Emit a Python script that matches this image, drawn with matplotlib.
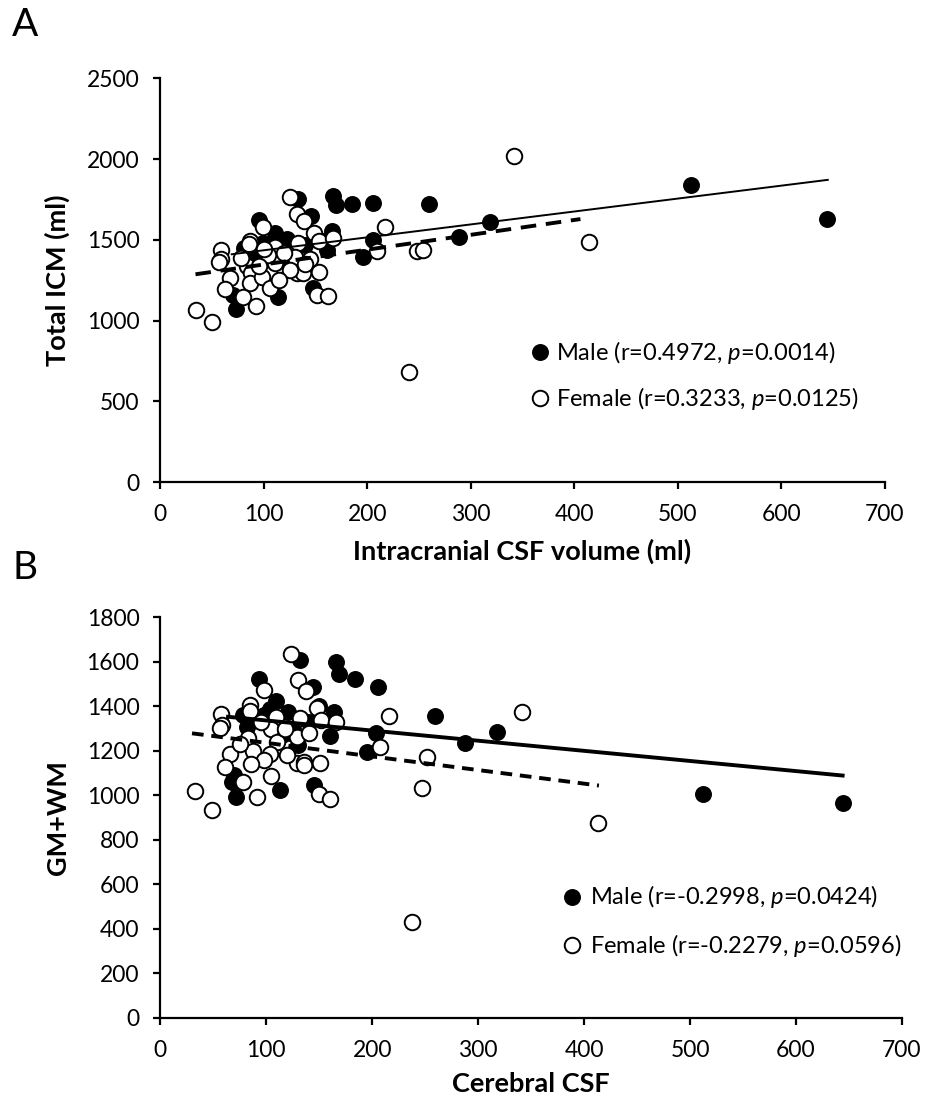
import numpy as np
import matplotlib
matplotlib.use("Agg")
import matplotlib.pyplot as plt

plt.rcParams['font.family'] = ['Lato', 'DejaVu Sans']
plt.rcParams['mathtext.fontset'] = 'custom'
plt.rcParams['mathtext.rm'] = 'Lato'
plt.rcParams['mathtext.it'] = 'Lato:italic'

# ---- panel A: intracranial CSF vs total ICM ----
a_male_x = [133, 167, 170, 185, 206, 260, 146, 95, 111, 166, 122, 99.5, 81, 206, 196,
            161, 289, 83.5, 85, 116, 125, 148, 114, 70.5, 73, 513, 644, 319, 128, 104,
            140, 90, 157]
a_male_y = [1750, 1771, 1715, 1720, 1726, 1721, 1647, 1622, 1540, 1556, 1503, 1478, 1447, 1498, 1395,
            1437, 1519, 1406, 1375, 1395, 1344, 1199, 1147, 1158, 1069, 1839, 1627, 1608, 1333, 1450,
            1470, 1380, 1490]
a_fem_x = [125, 132, 139, 99.5, 217, 148.5, 87, 86, 111, 133, 153, 167, 209, 248, 254,
           59, 59, 57, 103, 130, 83.5, 88, 105, 132, 138, 153, 67, 87, 98, 62.5,
           106, 151, 162, 80, 92.5, 34.5, 50, 342, 414.5, 240, 111, 104, 120, 145, 95,
           125, 115, 140, 100, 78]
a_fem_y = [1763, 1659, 1616, 1581, 1581, 1544, 1492, 1474, 1457, 1482, 1492, 1509, 1430, 1430, 1437,
           1437, 1379, 1364, 1395, 1395, 1337, 1292, 1296, 1292, 1292, 1302, 1261, 1230, 1268, 1193,
           1203, 1158, 1152, 1147, 1092, 1065, 993, 2020, 1488, 679, 1358, 1406, 1420, 1380, 1340,
           1310, 1250, 1350, 1440, 1390]
# trend lines: slope, intercept, x range
a_male_fit = (0.80, 1355, 69, 645)
a_fem_fit = (0.919, 1255, 34, 406)

# ---- panel B: cerebral CSF vs GM+WM ----
b_male_x = [132, 165.6, 169, 184, 206, 259, 93, 144.5, 109, 78, 98, 82, 121, 164, 160,
            204, 195, 115, 130, 69.6, 67.5, 145, 113, 71.5, 317.5, 288, 512, 644, 122.5,
            140, 150, 104, 125]
b_male_y = [1608, 1601, 1545, 1522, 1486, 1357, 1523, 1486, 1425, 1361, 1361, 1309, 1376, 1376, 1267,
            1279, 1196, 1271, 1226, 1092, 1062, 1047, 1024, 994, 1283, 1234, 1006, 964, 1279,
            1330, 1400, 1390, 1300]
b_fem_x = [123, 130, 138, 98, 85, 85, 57, 58, 56, 109, 132, 148, 152, 166, 216,
           207, 129, 105, 83, 110, 88, 104, 98, 66, 61, 86, 129, 136, 136, 151,
           105, 78, 150, 160, 91, 33, 49, 247, 252, 341, 413, 238, 118, 140, 95,
           120, 75]
b_fem_y = [1634, 1518, 1469, 1473, 1406, 1380, 1366, 1316, 1301, 1351, 1346, 1391, 1339, 1331, 1357,
           1216, 1264, 1297, 1256, 1241, 1201, 1186, 1159, 1186, 1129, 1141, 1147, 1151, 1137, 1144,
           1089, 1062, 1005, 984, 994, 1021, 934, 1035, 1171, 1376, 875, 430, 1300, 1280, 1330,
           1180, 1230]
b_male_fit = (-0.455, 1382, 64, 644)
b_fem_fit = (-0.611, 1297, 30, 414)

a_legend = ["Male (r=0.4972, $\\mathit{p}$=0.0014)", "Female (r=0.3233, $\\mathit{p}$=0.0125)"]
b_legend = ["Male (r=-0.2998, $\\mathit{p}$=0.0424)", "Female (r=-0.2279, $\\mathit{p}$=0.0596)"]

fig = plt.figure(figsize=(9.25, 11.04), dpi=100)
axA = fig.add_axes([0.1733, 0.5634, 0.7831, 0.3657])
axB = fig.add_axes([0.1732, 0.0779, 0.8019, 0.3630])

MS = 125


def fit_line(ax, fit, **kw):
    m, c, x0, x1 = fit
    xs = np.array([x0, x1])
    ax.plot(xs, m * xs + c, color='black', zorder=4, **kw)


def style(ax, ymax, ystep, xlabel, ylabel, xpad, ypad):
    ax.set_xlim(0, 700)
    ax.set_ylim(0, ymax)
    ax.set_xticks(np.arange(0, 701, 100))
    ax.set_yticks(np.arange(0, ymax + 1, ystep))
    for s in ['top', 'right']:
        ax.spines[s].set_visible(False)
    for s in ['left', 'bottom']:
        ax.spines[s].set_linewidth(1.6)
    ax.tick_params(direction='out', length=5, width=1.6, labelsize=16.5)
    ax.tick_params(axis='x', pad=11)
    ax.tick_params(axis='y', pad=10)
    ax.set_xlabel(xlabel, fontsize=19.5, fontweight='bold', labelpad=xpad)
    ax.set_ylabel(ylabel, fontsize=19.5, fontweight='bold', labelpad=ypad)


def legend(ax, labels, x, ys, tx):
    ax.scatter([x], [ys[0]], s=MS, color='black', transform=ax.transAxes, clip_on=False)
    ax.scatter([x], [ys[1]], s=MS, facecolors='white', edgecolors='black', linewidths=1.4,
               transform=ax.transAxes, clip_on=False)
    for lab, y in zip(labels, ys):
        ax.text(tx, y, lab, transform=ax.transAxes, va='center', ha='left', fontsize=17)


# A
axA.scatter(a_male_x, a_male_y, s=MS, color='black', zorder=2)
axA.scatter(a_fem_x, a_fem_y, s=MS, facecolors='white', edgecolors='black', linewidths=1.4, zorder=3)
fit_line(axA, a_male_fit, lw=1.4)
fit_line(axA, a_fem_fit, lw=2.8, ls=(0, (4, 2.5)))
style(axA, 2500, 500, 'Intracranial CSF volume (ml)', 'Total ICM (ml)', 10, 12)
legend(axA, a_legend, 0.524, [0.322, 0.208], 0.546)

# B
axB.scatter(b_male_x, b_male_y, s=MS, color='black', zorder=2)
axB.scatter(b_fem_x, b_fem_y, s=MS, facecolors='white', edgecolors='black', linewidths=1.4, zorder=3)
fit_line(axB, b_male_fit, lw=2.8)
fit_line(axB, b_fem_fit, lw=2.8, ls=(0, (3, 2)))
style(axB, 1800, 200, 'Cerebral CSF', 'GM+WM', 8, 12)
legend(axB, b_legend, 0.555, [0.303, 0.182], 0.579)

fig.text(25 / 925, 1 - 25 / 1104, 'A', fontsize=28, ha='center', va='center')
fig.text(25 / 925, 1 - 568 / 1104, 'B', fontsize=28, ha='center', va='center')

plt.savefig('out.png', dpi=100)
